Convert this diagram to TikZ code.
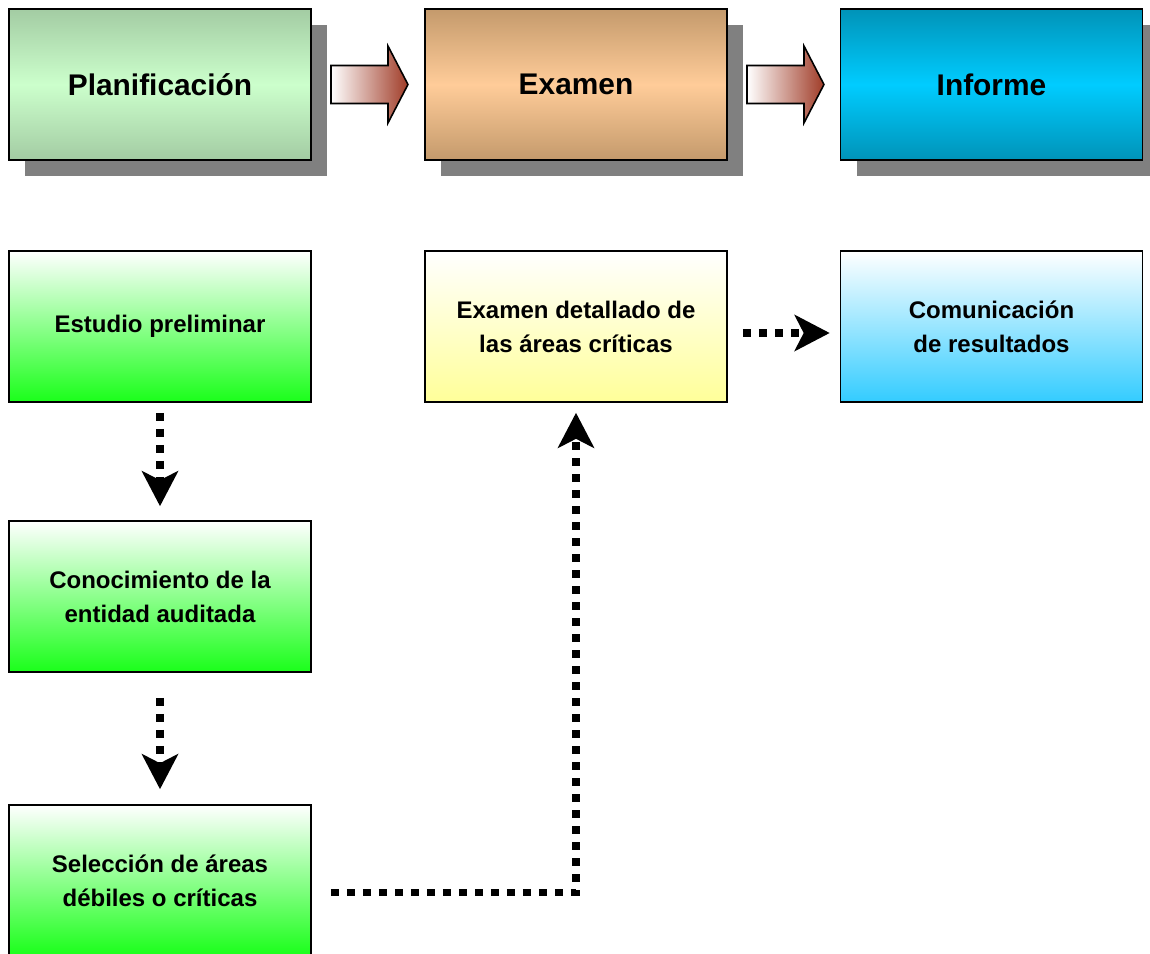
\documentclass[tikz,border=0pt]{standalone}
\usepackage{fontspec}
\setmainfont{Liberation Sans}
\usetikzlibrary{arrows.meta,calc,shadows}
\definecolor{sagedark}{RGB}{163,204,163}
\definecolor{sagelight}{RGB}{204,255,204}
\definecolor{tandark}{RGB}{196,154,108}
\definecolor{tanlight}{RGB}{255,204,153}
\definecolor{tealdark}{RGB}{0,147,184}
\definecolor{teallight}{RGB}{0,204,255}
\definecolor{stepgreen}{RGB}{26,255,26}
\definecolor{paleyellow}{RGB}{255,255,153}
\definecolor{skyblue}{RGB}{51,204,255}
\definecolor{arrowred}{RGB}{160,60,40}

\begin{document}
\begin{tikzpicture}[
	phase/.style={draw=black,line width=1.1pt,minimum width=6.04cm,minimum height=3.02cm,
		font=\bfseries\fontsize{17}{20}\selectfont,
		drop shadow={shadow xshift=0.32cm,shadow yshift=-0.32cm,fill=gray,opacity=1}},
	task/.style={draw=black,line width=0.9pt,minimum width=6.04cm,minimum height=3.02cm,
		align=center,top color=white,font=\bfseries\fontsize{13.66}{19.35}\selectfont},
	blockarrow/.style={draw=black,line width=0.9pt,left color=white,right color=arrowred},
	dots/.style={line width=4.5pt,dash pattern=on 0.16cm off 0.16cm,
		-{Stealth[length=0.7cm,width=0.72cm,inset=0.18cm]}}]
\useasboundingbox (0,0) rectangle (23,-19.08);
% phases
\node[phase,top color=sagedark,bottom color=sagedark,middle color=sagelight] (plan) at (3.2,-1.69) {Planificación};
\node[phase,top color=tandark,bottom color=tandark,middle color=tanlight] (exam) at (11.52,-1.69) {Examen};
\node[phase,top color=tealdark,bottom color=tealdark,middle color=teallight] (inform) at (19.83,-1.69) {Informe};
\foreach \from in {plan,exam}
	\draw[blockarrow] ($(\from.east)+(0.38,0.38)$) -- ++(1.14,0) -- ++(0,0.39) -- ++(0.4,-0.77)
		-- ++(-0.4,-0.77) -- ++(0,0.39) -- ++(-1.14,0) -- cycle;
% steps
\node[task,bottom color=stepgreen] (estudio) at (3.2,-6.53) {Estudio preliminar};
\node[task,bottom color=stepgreen] (conoc) at (3.2,-11.93) {Conocimiento de la\\entidad auditada};
\node[task,bottom color=stepgreen] (selec) at (3.2,-17.61) {Selección de áreas\\débiles o críticas};
\node[task,bottom color=paleyellow] (detalle) at (11.52,-6.53) {Examen detallado de\\las áreas críticas};
\node[task,bottom color=skyblue] (comunic) at (19.83,-6.53) {Comunicación\\de resultados};
\draw[dots,shorten <=0.2cm,shorten >=0.28cm] (estudio) -- (conoc);
\draw[dots,shorten <=0.5cm,shorten >=0.3cm] (conoc) -- (selec);
\draw[dots,shorten <=0.38cm,shorten >=0.2cm] ([yshift=-0.24cm]selec.east) -| (detalle.south);
\draw[dots,shorten <=0.3cm,shorten >=0.2cm] ([yshift=-0.13cm]detalle.east) -- ([yshift=-0.13cm]comunic.west);
\end{tikzpicture}
\end{document}
